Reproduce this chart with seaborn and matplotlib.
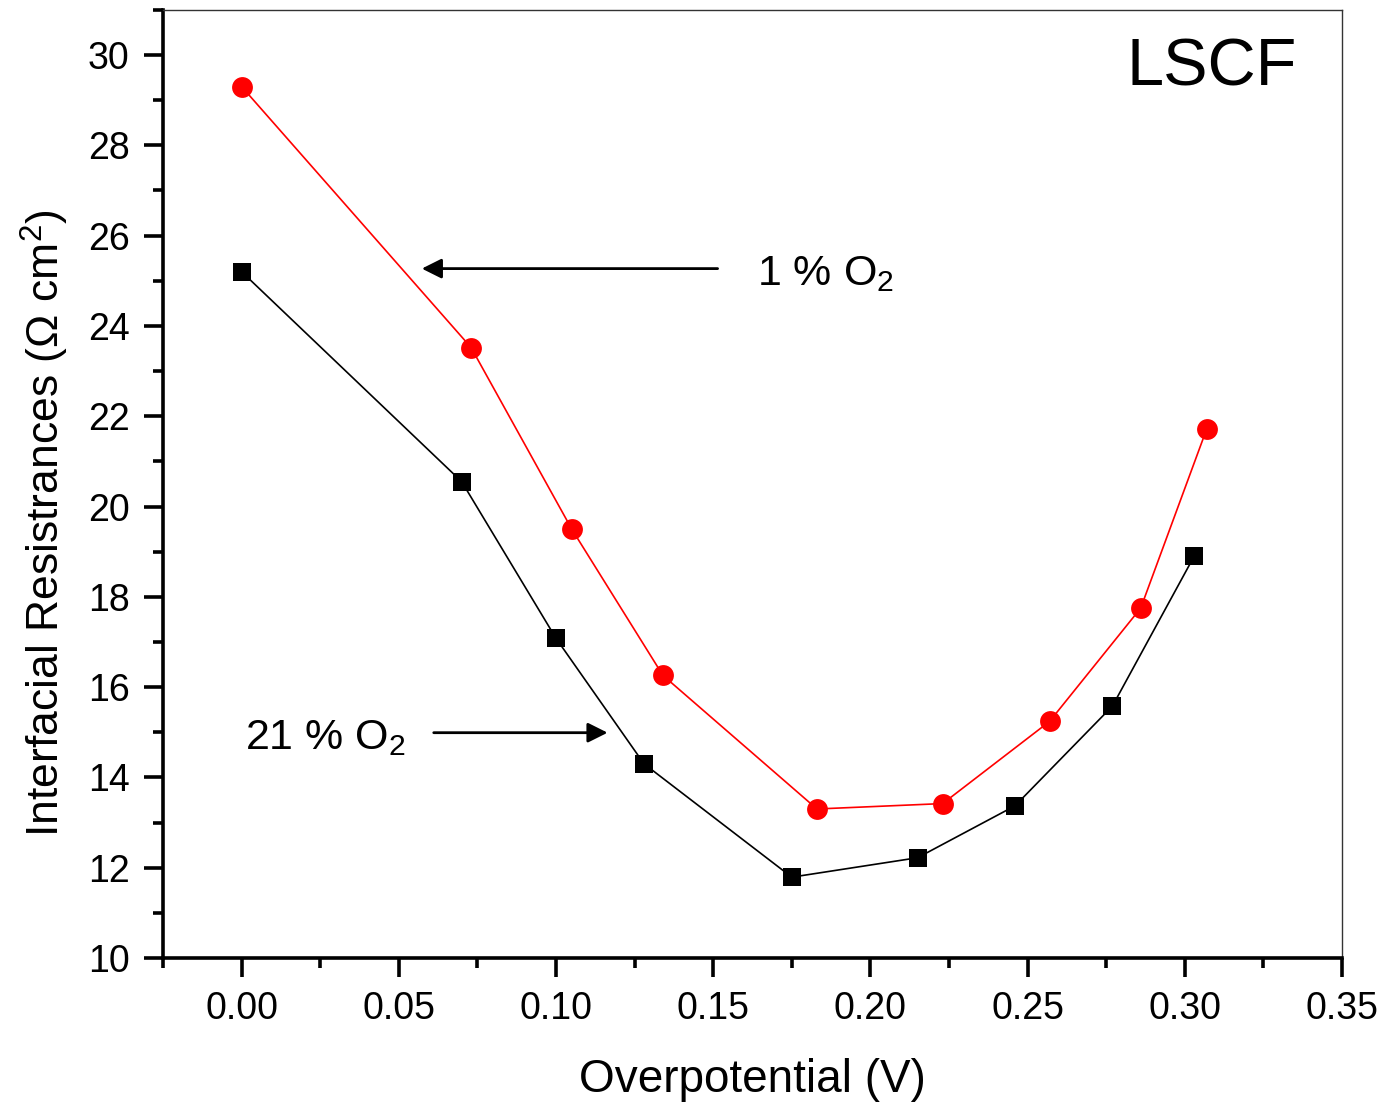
import numpy as np
import pandas as pd
import matplotlib
matplotlib.use("Agg")
import matplotlib.pyplot as plt
import seaborn as sns
from matplotlib.ticker import MultipleLocator

# data
eta_21 = [0.000, 0.070, 0.100, 0.128, 0.175, 0.215, 0.246, 0.277, 0.303]
r_21 = [25.20, 20.55, 17.08, 14.30, 11.79, 12.22, 13.37, 15.58, 18.90]
eta_1 = [0.000, 0.073, 0.105, 0.134, 0.183, 0.223, 0.257, 0.286, 0.307]
r_1 = [29.30, 23.52, 19.50, 16.26, 13.30, 13.42, 15.24, 17.75, 21.72]

sns.set_style("ticks")
plt.rcParams['font.family'] = ['Liberation Sans', 'DejaVu Sans']
plt.rcParams['mathtext.fontset'] = 'custom'
plt.rcParams['mathtext.rm'] = 'Liberation Sans'
plt.rcParams['mathtext.it'] = 'Liberation Sans:italic'
plt.rcParams['text.color'] = 'black'
plt.rcParams['axes.labelcolor'] = 'black'

fig = plt.figure(figsize=(13.82, 11.02), dpi=100)
ax = fig.add_axes([0.118, 0.1307, 0.853, 0.8603])

sns.lineplot(x=eta_21, y=r_21, ax=ax, color='black', lw=1.2, marker='s',
             markersize=13, markeredgewidth=0, markerfacecolor='black')
sns.lineplot(x=eta_1, y=r_1, ax=ax, color='red', lw=1.2, marker='o',
             markersize=15, markeredgewidth=0, markerfacecolor='red')

ax.set_xlim(-0.025, 0.35)
ax.set_ylim(10, 31)
ax.xaxis.set_major_locator(MultipleLocator(0.05))
ax.xaxis.set_minor_locator(MultipleLocator(0.025))
ax.yaxis.set_major_locator(MultipleLocator(2))
ax.yaxis.set_minor_locator(MultipleLocator(1))
ax.xaxis.set_major_formatter(matplotlib.ticker.FormatStrFormatter('%.2f'))

for s in ['left', 'bottom']:
    ax.spines[s].set_linewidth(2.6)
    ax.spines[s].set_color('black')
for s in ['top', 'right']:
    ax.spines[s].set_linewidth(1.0)
    ax.spines[s].set_color('#333333')
ax.tick_params(which='major', direction='out', length=14, width=2.6,
               labelsize=27, pad=10, colors='black')
ax.tick_params(which='minor', direction='out', length=7, width=2.6, colors='black')
ax.tick_params(top=False, right=False, which='both')

ax.set_xlabel('Overpotential (V)', fontsize=33, labelpad=22)
ax.set_ylabel(r'Interfacial Resistrances (Ω cm$^\mathregular{2}$)', fontsize=32, labelpad=12)
ax.yaxis.label.set_y(0.459)

ax.text(0.2816, 29.71, 'LSCF', fontsize=48, va='center', ha='left')

ax.annotate('', xy=(0.0573, 25.27), xytext=(0.1514, 25.27),
            arrowprops=dict(arrowstyle='-|>', color='black', lw=2,
                            mutation_scale=30, shrinkA=0, shrinkB=0))
ax.text(0.1639, 25.14, r'1 % O$_\mathregular{2}$', fontsize=31, va='center', ha='left')

ax.annotate('', xy=(0.1164, 14.99), xytext=(0.0611, 14.99),
            arrowprops=dict(arrowstyle='-|>', color='black', lw=2,
                            mutation_scale=30, shrinkA=0, shrinkB=0))
ax.text(0.001, 14.86, r'21 % O$_\mathregular{2}$', fontsize=31, va='center', ha='left')

fig.savefig('out.png', dpi=100)
